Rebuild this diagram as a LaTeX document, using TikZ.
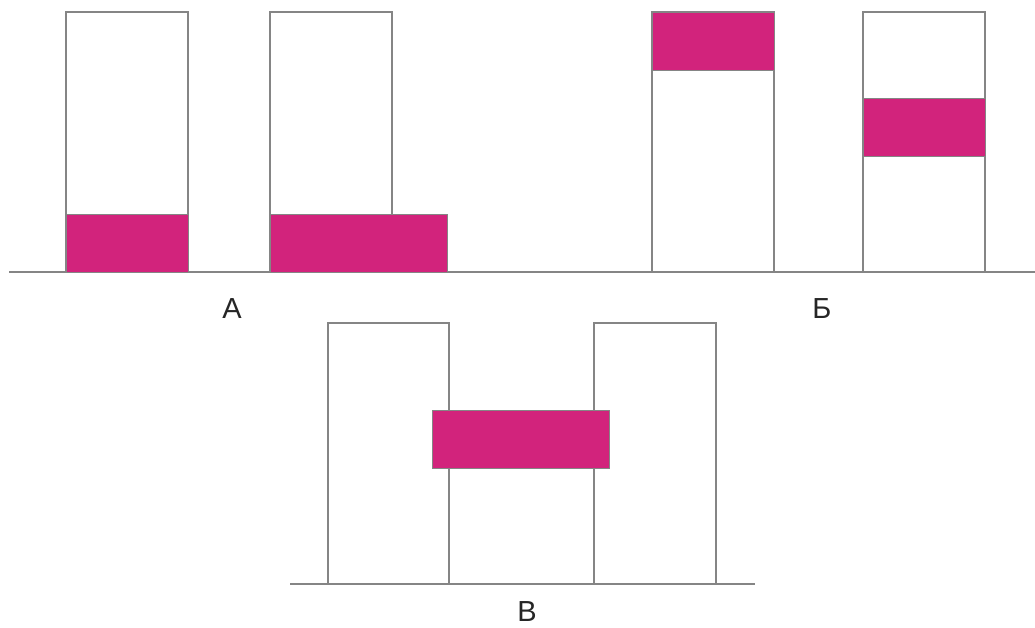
\documentclass[tikz,border=0pt]{standalone}
\usepackage{fontspec}
\setmainfont{Liberation Sans}
\definecolor{edgegray}{HTML}{858585}
\definecolor{mag}{HTML}{D2237C}
\begin{document}
\begin{tikzpicture}[x=1pt,y=-1pt,
  col/.style={draw=edgegray,line width=1.3pt,fill=white},
  blk/.style={draw=edgegray,line width=1pt,fill=mag},
  ground/.style={draw=edgegray,line width=1.3pt},
  lab/.style={font=\fontsize{29}{29}\selectfont,text=black!85,inner sep=0pt}]
\useasboundingbox (0,0) rectangle (1035,627);
% ground lines
\draw[ground] (9,272) -- (1035,272);
\draw[ground] (290,584) -- (755,584);
% A
\draw[col] (66,12) rectangle (188,272);
\draw[col] (270,12) rectangle (392,272);
\draw[blk] (66,214) rectangle (188,272);
\draw[blk] (270,214) rectangle (447,272);
% B (Be)
\draw[col] (652,12) rectangle (774,272);
\draw[col] (863,12) rectangle (985,272);
\draw[blk] (652,12) rectangle (774,70);
\draw[blk] (863,98) rectangle (985,156);
% V
\draw[col] (328,323) rectangle (449,584);
\draw[col] (594,323) rectangle (716,584);
\draw[blk] (432,410) rectangle (609,468);
% labels
\node[lab] (la) at (232,309) {А};
\node[lab] (lb) at (822,309) {Б};
\node[lab] (lv) at (527,612) {В};
\end{tikzpicture}
\end{document}
